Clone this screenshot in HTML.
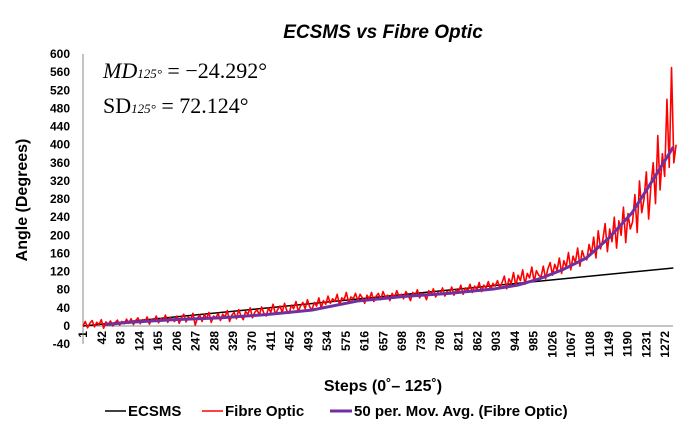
<!DOCTYPE html>
<html><head><meta charset="utf-8"><style>
body{margin:0;background:#fff;}
svg{display:block;font-family:"Liberation Sans",sans-serif;}
</style></head><body>
<svg id="chart" width="692" height="441">
<text x="383" y="38" text-anchor="middle" font-size="19" font-weight="bold" font-style="italic">ECSMS vs Fibre Optic</text>
<text transform="translate(27,200) rotate(-90)" text-anchor="middle" font-size="16" font-weight="bold">Angle (Degrees)</text>
<text x="383" y="391" text-anchor="middle" font-size="16" font-weight="bold">Steps (0˚– 125˚)</text>
<g font-family="'Liberation Serif',serif" font-size="22">
<text x="103" y="78"><tspan font-style="italic">MD</tspan><tspan font-size="13" font-style="italic">125°</tspan> = −24.292°</text>
<text x="103" y="113">SD<tspan font-size="13" font-style="italic">125°</tspan> = 72.124°</text>
</g>
<g id="yticks"></g><g id="xticks"></g>
<line x1="83" y1="54" x2="83" y2="344" stroke="#888" stroke-width="1"/>
<line x1="83" y1="326" x2="673" y2="326" stroke="#888" stroke-width="1"/>
<g id="series"></g>
<g font-size="15" font-weight="bold">
<g><line x1="105" y1="411" x2="126" y2="411" stroke="#000" stroke-width="1.5"/><text x="128" y="416">ECSMS</text></g>
<g><line x1="202" y1="411" x2="223" y2="411" stroke="#f00" stroke-width="1.5"/><text x="225" y="416">Fibre Optic</text></g>
<g><line x1="330" y1="411" x2="352" y2="411" stroke="#7030a0" stroke-width="3"/><text x="354" y="416">50 per. Mov. Avg. (Fibre Optic)</text></g>
</g>
</svg>
<script>
const yTicks=[-40,0,40,80,120,160,200,240,280,320,360,400,440,480,520,560,600];
const xTickLabels=[1,42,83,124,165,206,247,288,329,370,411,452,493,534,575,616,657,698,739,780,821,862,903,944,985,1026,1067,1108,1149,1190,1231,1272];
const fibreStep=5;
const fibreValues=[0,10,-4,6,12,-2,8,3,14,-5,9,4,11,0,7,13,2,10,5,15,
6,16,3,12,18,5,14,9,20,4,15,11,22,7,17,12,24,8,19,14,
10,22,6,18,26,9,20,14,28,2,18,24,10,26,16,30,8,22,18,28,
12,26,20,34,10,24,30,16,36,22,14,32,26,40,18,30,36,24,42,28,
22,40,30,48,26,36,44,30,50,34,28,46,38,54,32,44,52,38,58,42,
36,52,44,62,40,56,48,66,50,60,54,70,46,62,58,74,52,64,60,72,
56,70,62,50,68,60,74,54,66,72,58,76,64,68,56,72,62,78,66,70,
60,76,68,56,74,66,80,62,72,70,58,78,68,82,64,74,70,84,66,76,
72,86,68,80,76,90,70,84,78,92,74,88,80,96,76,90,84,98,80,94,
88,100,84,96,110,82,104,94,118,88,112,100,124,92,116,106,130,98,122,112,
108,132,104,126,140,112,136,122,150,116,144,130,162,124,154,140,172,132,166,150,
146,180,158,196,150,210,170,190,226,164,214,186,240,172,232,200,262,184,248,214,
230,290,206,320,250,280,340,236,310,360,270,420,300,380,330,500,350,570,360,400];
const maSteps=[50,100,200,300,400,500,600,700,800,900,950,1000,1050,1100,1150,1200,1250,1290];
const maValues=[3,8,14,18,25,35,55,65,72,82,90,105,125,150,195,250,330,395];
const ecsmsSteps=[1,1290];
const ecsmsValues=[0,128];
const NS="http://www.w3.org/2000/svg";
const X=s=>83+(s-1)*0.458;
const Y=v=>326-v*(272/600);
function mk(t,a,p){const e=document.createElementNS(NS,t);for(const k in a)e.setAttribute(k,a[k]);p.appendChild(e);return e;}
const yt=document.getElementById('yticks');
yTicks.forEach(v=>{const t=mk('text',{x:70,y:Y(v)+4,'text-anchor':'end','font-size':12,'font-weight':'bold'},yt);t.textContent=v;

});
const xt=document.getElementById('xticks');
xTickLabels.forEach(s=>{const x=X(s);const t=mk('text',{transform:`translate(${x+4},331) rotate(-90)`,'text-anchor':'end','font-size':12,'font-weight':'bold'},xt);t.textContent=s;

});
const g=document.getElementById('series');
const e=mk('polyline',{points:ecsmsSteps.map((s,i)=>X(s)+','+Y(ecsmsValues[i])).join(' '),fill:'none',stroke:'#000','stroke-width':1.5},g);


const f=mk('polyline',{points:fibreValues.map((v,i)=>X(1+i*fibreStep)+','+Y(v)).join(' '),fill:'none',stroke:'#f00','stroke-width':1.6,'stroke-linejoin':'round'},g);


const m=mk('polyline',{points:maSteps.map((s,i)=>X(s)+','+Y(maValues[i])).join(' '),fill:'none',stroke:'#7030a0','stroke-width':3,'stroke-linejoin':'round'},g);


</script>
</body></html>
